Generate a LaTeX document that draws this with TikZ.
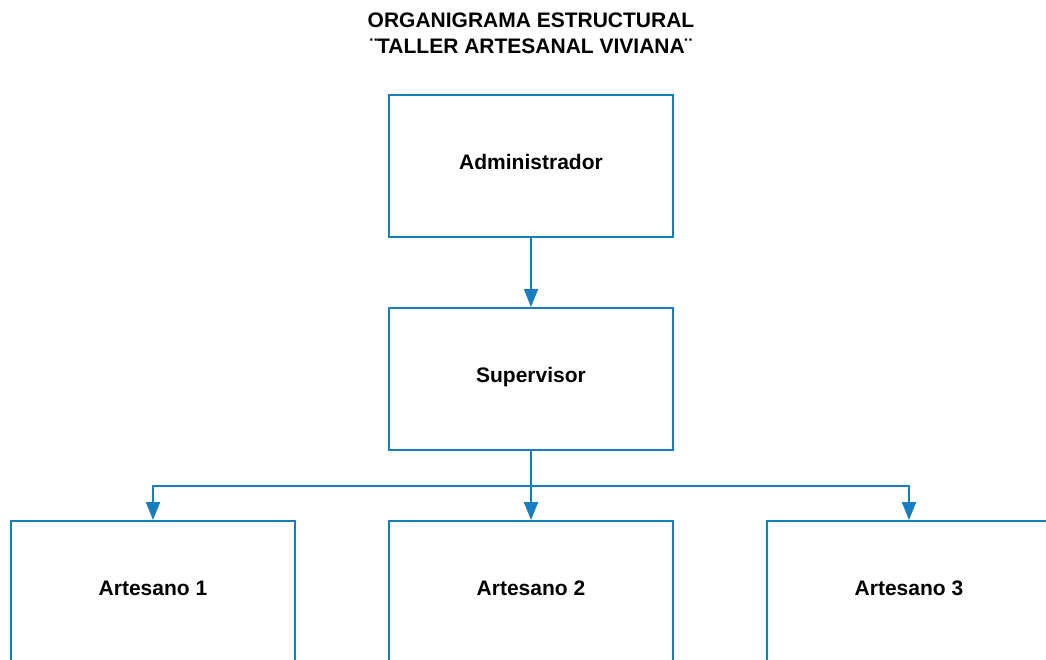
\documentclass[tikz,border=0pt]{standalone}
\usepackage{fontspec}
\setmainfont{Liberation Sans}
\usetikzlibrary{arrows.meta,positioning,calc}
\definecolor{lineblue}{RGB}{22,125,193}

\begin{document}
\begin{tikzpicture}[x=1pt,y=-1pt, node distance=69pt and 92pt, every node/.style={font=\fontsize{21}{26}\selectfont\bfseries,align=center}, box/.style={draw=lineblue,line width=2pt,minimum width=284pt,minimum height=142pt,inner sep=0pt,text height=15pt,text depth=8pt}, arr/.style={-{Triangle[length=18pt,width=14pt]},line width=2pt,lineblue}]
  \useasboundingbox (0,0) rectangle (1046,659);
  \node (title) at (531,33) {ORGANIGRAMA ESTRUCTURAL\\¨TALLER ARTESANAL VIVIANA¨};
  \node[box] (admin) at (531,166) {Administrador};
  \node[box,below=of admin] (sup) {Supervisor};
  \node[box,below=of sup] (art2) {Artesano 2};
  \node[box,left=of art2] (art1) {Artesano 1};
  \node[box,right=of art2] (art3) {Artesano 3};
  \coordinate (split) at ($(sup.south)!0.5!(art2.north)$);
  \draw[arr] (admin) -- (sup);
  \draw[arr] (sup) -- (art2);
  \draw[arr] (split) -| (art1);
  \draw[arr] (split) -| (art3);
\end{tikzpicture}
\end{document}
